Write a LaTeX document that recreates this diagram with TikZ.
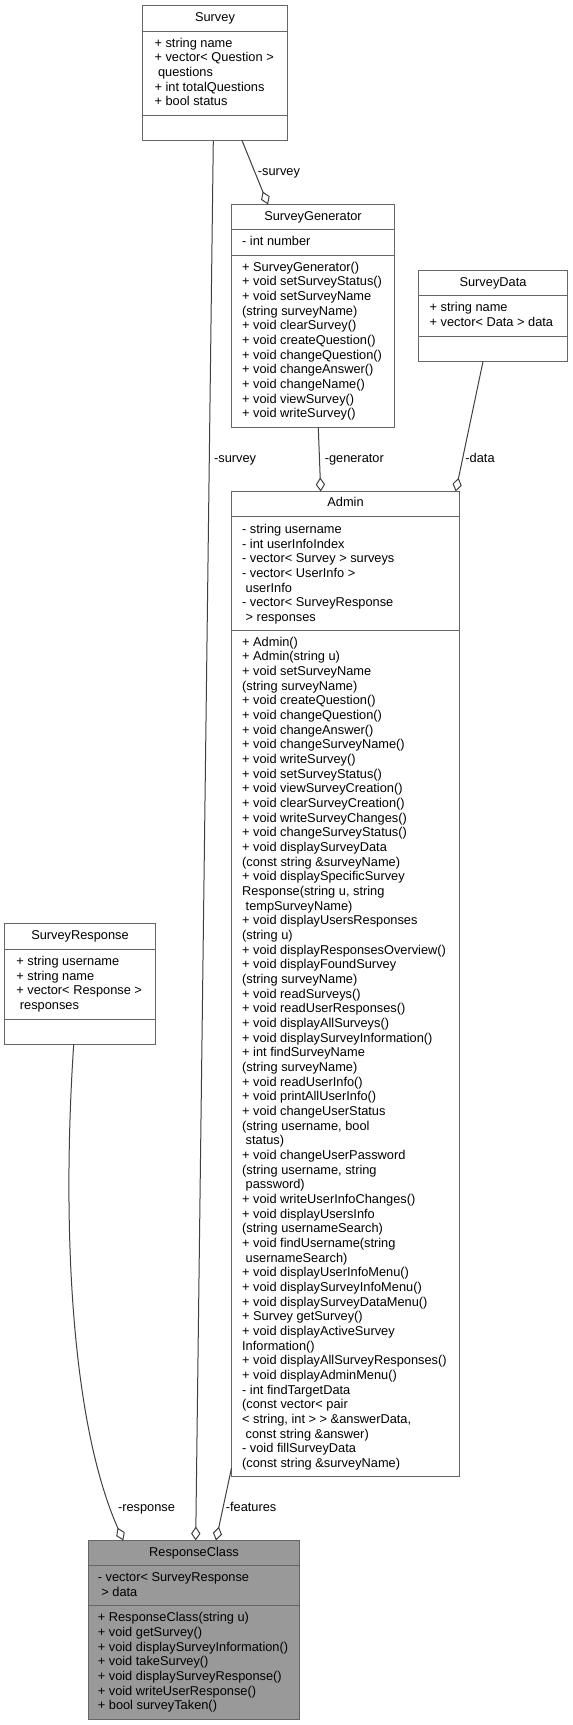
\documentclass[tikz,border=0pt]{standalone}
\usepackage{fontspec}
\setmainfont{Liberation Sans}
\usetikzlibrary{arrows.meta,fit}
\definecolor{edgegray}{HTML}{404040}
\definecolor{boxgray}{HTML}{666666}
\definecolor{focusgray}{HTML}{999999}

\begin{document}
\begin{tikzpicture}[x=0.75pt,y=-0.75pt,
  font=\fontsize{9.6}{11}\selectfont,
  classbox/.style={draw=boxgray,line width=0.75pt,fill=white,inner sep=0pt},
  sepline/.style={draw=boxgray,line width=0.75pt},
  title/.style={anchor=base,inner sep=0pt},
  members/.style={anchor=north west,align=left,inner sep=0pt},
  rolelabel/.style={anchor=base west,inner sep=0pt},
  agg/.style={draw=edgegray,line width=0.75pt,-{Diamond[open,length=10.5pt,width=7pt]}}]
  \fill[white] (0,0) rectangle (572,1725);
  \useasboundingbox (0,0) rectangle (572,1725);

  % Class boxes
  \node[classbox,fit={(142.5,5.5) (287.5,140.5)}] (survey) {};
  \node[classbox,fit={(231.5,204.5) (394.5,427.5)}] (generator) {};
  \node[classbox,fit={(418.5,270.5) (567.5,361.5)}] (surveydata) {};
  \node[classbox,fit={(231.5,491.5) (459.5,1476.5)}] (admin) {};
  \node[classbox,fit={(4.5,923.5) (155.5,1044.5)}] (surveyresponse) {};
  \node[classbox,fill=focusgray,fit={(88.5,1540.5) (299.5,1719.5)}] (responseclass) {};

  \draw[sepline] (142.5,31.5) -- (287.5,31.5) (142.5,115.5) -- (287.5,115.5);
  \draw[sepline] (231.5,229.5) -- (394.5,229.5) (231.5,255.5) -- (394.5,255.5);
  \draw[sepline] (418.5,295.5) -- (567.5,295.5) (418.5,336.5) -- (567.5,336.5);
  \draw[sepline] (231.5,516.5) -- (459.5,516.5) (231.5,630.5) -- (459.5,630.5);
  \draw[sepline] (4.5,949.5) -- (155.5,949.5) (4.5,1019.5) -- (155.5,1019.5);
  \draw[sepline] (88.5,1565.5) -- (299.5,1565.5) (88.5,1605.5) -- (299.5,1605.5);

  % Survey
  \node[title] (survey-name) at (215,21.5) {Survey};
  \node[members] (survey-attr) at (154.3,36.6) {\strut + string name\\
    + vector< Question >\\
    \ questions\\
    + int totalQuestions\\
    + bool status};

  % SurveyGenerator
  \node[title] (generator-name) at (313,220.9) {SurveyGenerator};
  \node[members] (generator-attr) at (241.9,235.2) {\strut - int number};
  \node[members] (generator-ops) at (241.9,260.6) {\strut + SurveyGenerator()\\
    + void setSurveyStatus()\\
    + void setSurveyName\\
    (string surveyName)\\
    + void clearSurvey()\\
    + void createQuestion()\\
    + void changeQuestion()\\
    + void changeAnswer()\\
    + void changeName()\\
    + void viewSurvey()\\
    + void writeSurvey()};

  % SurveyData
  \node[title] (surveydata-name) at (493,286.9) {SurveyData};
  \node[members] (surveydata-attr) at (429.4,301.2) {\strut + string name\\
    + vector< Data > data};

  % Admin
  \node[title] (admin-name) at (345.5,506.9) {Admin};
  \node[members] (admin-attr) at (241.9,522.9) {\strut - string username\\
    - int userInfoIndex\\
    - vector< Survey > surveys\\
    - vector< UserInfo >\\
    \ userInfo\\
    - vector< SurveyResponse\\
    \ > responses};
  \node[members] (admin-ops) at (241.9,635.6) {\strut + Admin()\\
    + Admin(string u)\\
    + void setSurveyName\\
    (string surveyName)\\
    + void createQuestion()\\
    + void changeQuestion()\\
    + void changeAnswer()\\
    + void changeSurveyName()\\
    + void writeSurvey()\\
    + void setSurveyStatus()\\
    + void viewSurveyCreation()\\
    + void clearSurveyCreation()\\
    + void writeSurveyChanges()\\
    + void changeSurveyStatus()\\
    + void displaySurveyData\\
    (const string \&surveyName)\\
    + void displaySpecificSurvey\\
    Response(string u, string\\
    \ tempSurveyName)\\
    + void displayUsersResponses\\
    (string u)\\
    + void displayResponsesOverview()\\
    + void displayFoundSurvey\\
    (string surveyName)\\
    + void readSurveys()\\
    + void readUserResponses()\\
    + void displayAllSurveys()\\
    + void displaySurveyInformation()\\
    + int findSurveyName\\
    (string surveyName)\\
    + void readUserInfo()\\
    + void printAllUserInfo()\\
    + void changeUserStatus\\
    (string username, bool\\
    \ status)\\
    + void changeUserPassword\\
    (string username, string\\
    \ password)\\
    + void writeUserInfoChanges()\\
    + void displayUsersInfo\\
    (string usernameSearch)\\
    + void findUsername(string\\
    \ usernameSearch)\\
    + void displayUserInfoMenu()\\
    + void displaySurveyInfoMenu()\\
    + void displaySurveyDataMenu()\\
    + Survey getSurvey()\\
    + void displayActiveSurvey\\
    Information()\\
    + void displayAllSurveyResponses()\\
    + void displayAdminMenu()\\
    - int findTargetData\\
    (const vector< pair\\
    < string, int > > \&answerData,\\
    \ const string \&answer)\\
    - void fillSurveyData\\
    (const string \&surveyName)};

  % SurveyResponse
  \node[title] (surveyresponse-name) at (80,939.9) {SurveyResponse};
  \node[members] (surveyresponse-attr) at (16.1,954.9) {\strut + string username\\
    + string name\\
    + vector< Response >\\
    \ responses};

  % ResponseClass
  \node[title] (responseclass-name) at (194,1556.5) {ResponseClass};
  \node[members] (responseclass-attr) at (97.6,1571.2) {\strut - vector< SurveyResponse\\
    \ > data};
  \node[members] (responseclass-ops) at (97.6,1611.2) {\strut + ResponseClass(string u)\\
    + void getSurvey()\\
    + void displaySurveyInformation()\\
    + void takeSurvey()\\
    + void displaySurveyResponse()\\
    + void writeUserResponse()\\
    + bool surveyTaken()};

  % Edge ends on the boxes
  \coordinate (survey-out1) at (242,140.5);
  \coordinate (survey-out2) at (213.3,140.5);
  \coordinate (generator-in) at (268,204.5);
  \coordinate (generator-out) at (318.3,427.5);
  \coordinate (surveydata-out) at (483,361.5);
  \coordinate (admin-in1) at (320.7,491.5);
  \coordinate (admin-in2) at (455.7,491.5);
  \coordinate (admin-out) at (231.5,1468);
  \coordinate (surveyresponse-out) at (73.7,1044.5);
  \coordinate (responseclass-in1) at (123.3,1540.5);
  \coordinate (responseclass-in2) at (195.7,1540.5);
  \coordinate (responseclass-in3) at (216,1540.5);

  % Aggregations
  \draw[agg] (survey-out1) -- (generator-in);
  \draw[agg] (generator-out) -- (admin-in1);
  \draw[agg] (surveydata-out) -- (admin-in2);
  \draw[agg] (survey-out2) -- (responseclass-in2);
  \draw[agg] (surveyresponse-out) .. controls (62,1220) and (70,1420) .. (responseclass-in1);
  \draw[agg] (admin-out) -- (responseclass-in3);

  \node[rolelabel] (lbl-survey1) at (257.7,175.8) {-survey};
  \node[rolelabel] (lbl-survey2) at (213.9,462.5) {-survey};
  \node[rolelabel] (lbl-generator) at (324.5,462.8) {-generator};
  \node[rolelabel] (lbl-data) at (465.2,462.8) {-data};
  \node[rolelabel] (lbl-response) at (117.8,1511) {-response};
  \node[rolelabel] (lbl-features) at (225.6,1511.2) {-features};
\end{tikzpicture}
\end{document}
